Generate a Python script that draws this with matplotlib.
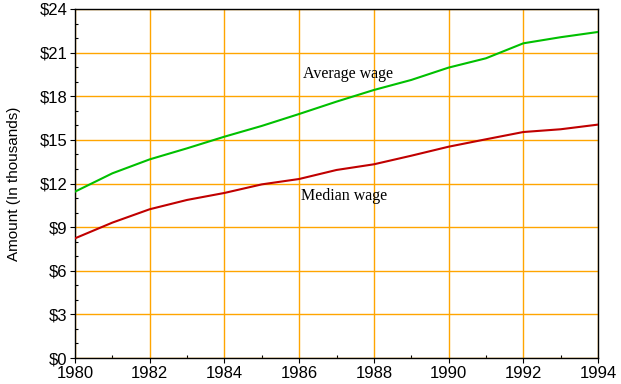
import matplotlib
matplotlib.use('Agg')
import matplotlib.pyplot as plt
import matplotlib.ticker as ticker

years = list(range(1980, 1995))
average_wage = [11.44, 12.70, 13.66, 14.42, 15.22, 15.96, 16.78, 17.63,
                18.43, 19.12, 19.97, 20.61, 21.64, 22.06, 22.42]
median_wage = [8.23, 9.31, 10.23, 10.87, 11.35, 11.94, 12.31, 12.93,
               13.32, 13.91, 14.53, 15.04, 15.54, 15.73, 16.05]

fig = plt.figure(figsize=(6.21, 3.84), dpi=100)
ax = fig.add_axes([75 / 621, 26 / 384, 523 / 621, 349 / 384])

ax.plot(years, average_wage, color='#00c000', linewidth=1.5, zorder=3)
ax.plot(years, median_wage, color='#c00000', linewidth=1.5, zorder=3)

ax.set_xlim(1980, 1994)
ax.set_ylim(0, 24)

ax.xaxis.set_major_locator(ticker.MultipleLocator(2))
ax.xaxis.set_minor_locator(ticker.MultipleLocator(1))
ax.yaxis.set_major_locator(ticker.MultipleLocator(3))
ax.yaxis.set_minor_locator(ticker.MultipleLocator(1))
ax.yaxis.set_major_formatter(ticker.FuncFormatter(lambda v, p: f'${v:.0f}'))

ax.grid(True, which='major', color='#ffa500', linewidth=1.0)
ax.set_axisbelow(True)

ax.tick_params(which='major', direction='out', length=3.5, width=0.8,
               labelsize=12, pad=2)
ax.tick_params(which='minor', direction='in', length=2.5, width=0.8)
for lab in ax.get_xticklabels() + ax.get_yticklabels():
    lab.set_fontfamily('Liberation Sans')

for s in ax.spines.values():
    s.set_linewidth(1.0)
    s.set_color('black')

ax.set_ylabel('Amount (In thousands)', family='Liberation Sans', fontsize=11,
              labelpad=13)

ax.text(1986.1, 19.53, 'Average wage', family='Liberation Serif', fontsize=11.5,
        ha='left', va='center')
ax.text(1986.05, 11.16, 'Median wage', family='Liberation Serif', fontsize=11.5,
        ha='left', va='center')

fig.savefig('out.png', dpi=100)
